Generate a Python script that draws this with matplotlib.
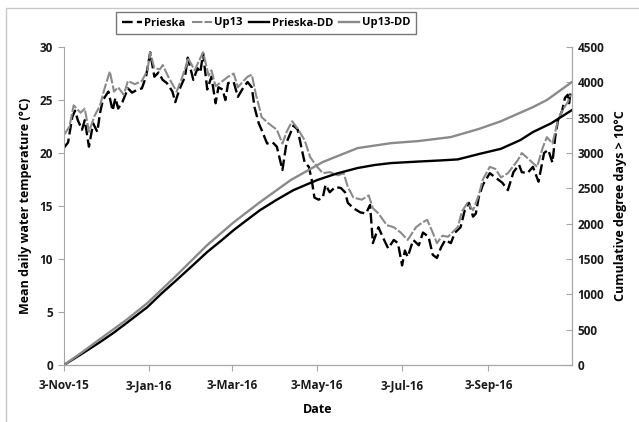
import numpy as np
import matplotlib
matplotlib.use("Agg")
from matplotlib import pyplot as plt
from matplotlib.patches import Rectangle

plt.rcParams["font.family"] = ["Open Sans", "DejaVu Sans"]
plt.rcParams["font.weight"] = "bold"
plt.rcParams["axes.labelweight"] = "bold"

start = np.datetime64("2015-11-03")

# daily mean water temperature (deg C), days counted from 3-Nov-15
prieska_day = [0, 3, 6, 8, 10, 13, 15, 18, 21, 24, 26, 28, 32, 35, 37, 39, 42, 46, 49, 53,
               56, 59, 62, 65, 68, 71, 74, 78, 80, 83, 87, 89, 93, 96, 98, 100, 103, 106, 109, 111,
               114, 116, 118, 122, 125, 129, 132, 135, 137, 140, 142, 146, 150, 153, 157, 160, 165, 168, 171, 173,
               176, 178, 180, 183, 186, 188, 191, 195, 199, 202, 204, 208, 213, 217, 220, 222, 226, 229, 233, 237,
               240, 243, 245, 247, 251, 255, 258, 262, 265, 268, 271, 274, 278, 281, 285, 288, 291, 294, 296, 298,
               301, 306, 312, 315, 319, 323, 327, 329, 333, 337, 341, 345, 348, 351, 353, 355, 358, 360, 362, 363,
               364]
prieska_temp = [20.5, 21.0, 23.4, 24.0, 23.1, 22.2, 23.1, 20.6, 22.8, 22.0, 23.8, 25.0, 25.8, 24.0, 25.2, 24.2, 24.8, 26.1, 25.7, 26.0,
                26.1, 27.2, 29.5, 27.2, 27.6, 26.9, 26.6, 25.8, 24.8, 26.0, 27.2, 29.0, 26.9, 28.0, 27.6, 29.4, 26.0, 27.2, 24.7, 26.2,
                26.0, 25.0, 26.6, 26.7, 25.3, 26.2, 26.7, 26.2, 24.3, 22.8, 22.2, 20.9, 21.0, 20.6, 18.4, 21.0, 22.6, 22.2, 20.3, 19.1,
                18.7, 17.5, 15.8, 15.6, 15.8, 17.0, 16.3, 16.8, 16.7, 16.3, 15.3, 14.8, 14.4, 14.3, 15.1, 11.5, 13.0, 12.1, 11.0, 11.8,
                11.5, 9.4, 10.8, 10.2, 11.8, 11.3, 12.5, 12.1, 10.4, 10.1, 11.1, 11.8, 11.5, 12.5, 13.0, 14.6, 15.3, 14.0, 14.3, 15.8,
                17.0, 18.1, 17.5, 17.2, 16.5, 18.2, 18.9, 18.2, 18.1, 18.7, 17.3, 20.0, 20.3, 19.1, 21.5, 23.1, 24.0, 25.2, 25.5, 24.7,
                25.7]

up13_day = [0, 4, 7, 12, 15, 18, 22, 26, 29, 33, 36, 39, 43, 46, 51, 56, 60, 62, 65, 69,
            71, 75, 78, 81, 84, 88, 89, 94, 96, 100, 104, 106, 109, 114, 118, 122, 125, 129, 132, 135,
            138, 141, 142, 147, 150, 153, 157, 160, 164, 168, 173, 177, 182, 186, 191, 197, 201, 204, 208, 214,
            219, 222, 226, 232, 237, 242, 247, 253, 257, 261, 265, 268, 272, 276, 279, 283, 286, 290, 294, 298,
            301, 306, 310, 314, 319, 326, 329, 335, 340, 344, 347, 351, 355, 358, 362, 364]
up13_temp = [21.7, 22.5, 24.5, 23.8, 24.2, 22.0, 23.5, 24.5, 26.0, 27.7, 25.8, 26.2, 25.5, 26.8, 26.5, 26.8, 27.8, 29.5, 28.0, 27.9,
             28.3, 27.2, 26.5, 25.8, 26.8, 28.3, 29.0, 27.8, 28.4, 29.5, 27.3, 27.8, 26.3, 26.8, 27.2, 27.5, 26.2, 26.8, 27.2, 27.4,
             25.5, 24.0, 23.4, 22.8, 22.5, 22.2, 20.9, 22.0, 23.0, 22.3, 21.2, 19.6, 18.7, 18.1, 18.2, 17.9, 18.1, 16.8, 15.8, 15.6,
             16.0, 14.8, 14.3, 13.2, 13.0, 12.5, 11.8, 13.0, 13.4, 13.7, 12.5, 11.5, 12.2, 12.1, 12.5, 13.0, 14.5, 15.3, 14.6, 16.0,
             17.5, 18.7, 18.5, 17.7, 18.1, 19.3, 20.0, 19.3, 18.7, 20.5, 21.5, 20.9, 23.1, 24.0, 24.8, 25.5]

# cumulative degree days above 10 deg C
prieska_dd_day = [0, 13, 26, 36, 45, 60, 70, 81, 92, 103, 113, 122, 132, 141, 153, 165, 182, 196,
                  211, 223, 235, 255, 270, 283, 299, 314, 328, 337, 350, 365]
prieska_dd = [0, 160, 325, 460, 594, 820, 1010, 1203, 1400, 1600, 1760, 1910, 2060, 2193, 2340, 2476, 2618, 2710,
              2788, 2830, 2858, 2880, 2895, 2910, 2990, 3060, 3184, 3297, 3420, 3608]

up13_dd_day = [0, 13, 26, 45, 60, 81, 103, 122, 141, 163, 186, 211, 235, 255, 278, 298, 314, 337, 347, 365]
up13_dd = [0, 180, 368, 640, 877, 1270, 1698, 2020, 2307, 2618, 2873, 3070, 3140, 3170, 3226, 3340, 3450, 3650, 3750, 4005]

tick_days = [0, 61, 121, 182, 243, 305]
tick_labels = ["3-Nov-15", "3-Jan-16", "3-Mar-16", "3-May-16", "3-Jul-16", "3-Sep-16"]


def to_dates(days):
    return start + np.array(days).astype("timedelta64[D]")


grey = "#8a8a8a"
spine_grey = "#a6a6a6"

fig = plt.figure(figsize=(6.39, 4.22), dpi=100)
ax = fig.add_axes([0.100, 0.135, 0.795, 0.7535])
ax2 = ax.twinx()

l1, = ax.plot(to_dates(prieska_day), prieska_temp, color="black", lw=1.7, dashes=(4.5, 1.8))
l2, = ax.plot(to_dates(up13_day), up13_temp, color=grey, lw=1.5, dashes=(5, 1.0))
l3, = ax2.plot(to_dates(prieska_dd_day), prieska_dd, color="black", lw=1.7)
l4, = ax2.plot(to_dates(up13_dd_day), up13_dd, color=grey, lw=1.7)

ax.set_xlim(to_dates([0])[0], to_dates([365])[0])
ax.set_ylim(0, 30)
ax2.set_ylim(0, 4500)
ax.set_yticks(range(0, 31, 5))
ax2.set_yticks(range(0, 4501, 500))
ax.set_xticks(to_dates(tick_days))
ax.set_xticklabels(tick_labels)

for a in (ax, ax2):
    for side in a.spines:
        a.spines[side].set_color(spine_grey)
    a.spines["top"].set_visible(False)
    a.tick_params(colors=spine_grey, labelcolor="#1a1a1a", labelsize=8.5, length=4)
    for lab in a.get_xticklabels() + a.get_yticklabels():
        lab.set_fontweight("bold")
ax.tick_params(axis="x", pad=6)
ax.tick_params(axis="y", pad=4)
ax2.tick_params(axis="y", direction="in", pad=4)
ax2.spines["left"].set_visible(False)

ax.set_ylabel("Mean daily water temperature (°C)", fontsize=9, fontweight="bold", labelpad=5)
ax2.set_ylabel("Cumulative degree days > 10°C", fontsize=9, fontweight="bold", labelpad=7)
ax.set_xlabel("Date", fontsize=9, fontweight="bold", labelpad=8)

fig.legend([l1, l2, l3, l4], ["Prieska", "Up13", "Prieska-DD", "Up13-DD"],
           loc="center", bbox_to_anchor=(266 / 639, 1 - 23 / 422), ncol=4,
           prop={"size": 8, "weight": "bold"}, frameon=True, fancybox=False,
           edgecolor="#555555", handlelength=1.8, handletextpad=0.25,
           columnspacing=0.55, borderpad=0.5, borderaxespad=0)

# thin frame round the chart area
fig.patches.append(Rectangle((6 / 639, -0.1), 1.2, 1 - 8 / 422 + 0.1,
                             transform=fig.transFigure, fill=False,
                             edgecolor="#c8c8c8", lw=1))

fig.savefig("out.png", dpi=100)
